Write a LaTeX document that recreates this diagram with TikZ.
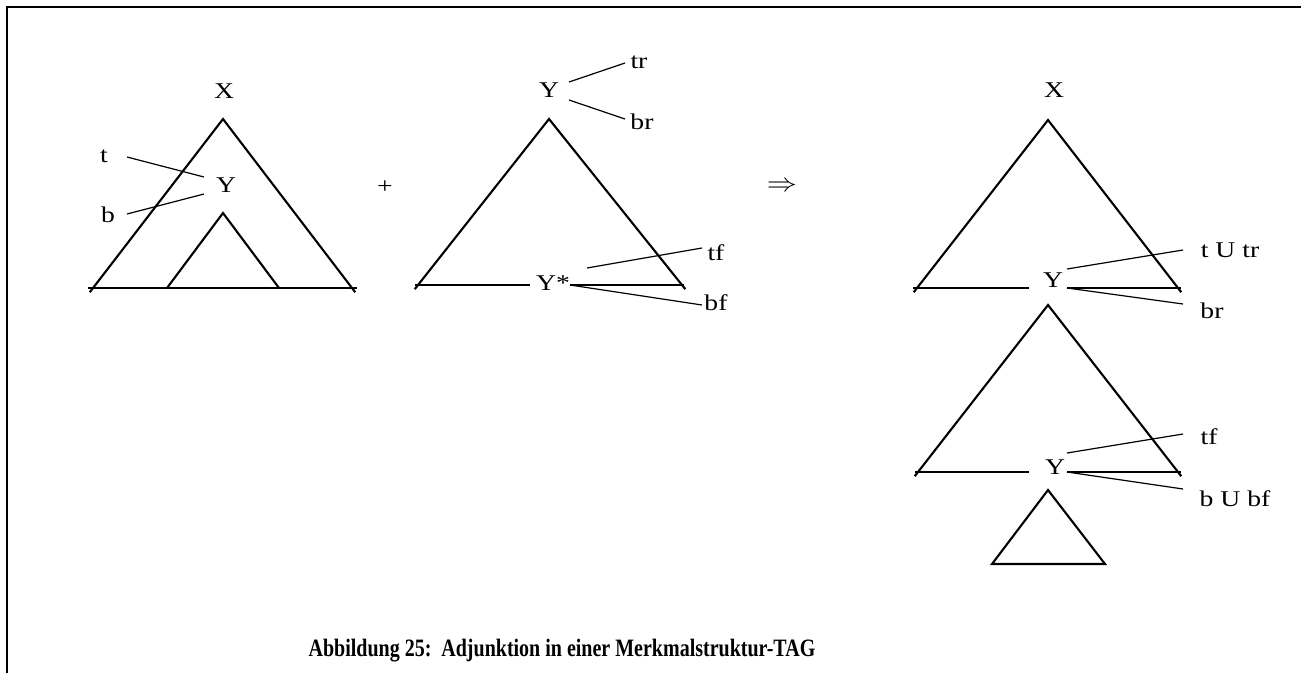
\documentclass[tikz,border=0pt]{standalone}
\usepackage{fontspec}
\setmainfont{Liberation Serif}[FakeStretch=1.23]
\newfontfamily\capfont{Liberation Serif}[FakeStretch=0.8]
\usetikzlibrary{calc}
\tikzset{
  lbl/.style={inner sep=0pt, font=\fontsize{22.5}{26}\selectfont},
  tri/.style={line width=2.1pt, line join=miter},
  lead/.style={line width=1.2pt},
  frame/.style={line width=2pt}
}
\newcommand{\sidetri}[3]{% apex, left, right
  \draw[tri] ($(#1)!1.025!(#2)$) -- (#1) -- ($(#1)!1.025!(#3)$);
}
\begin{document}
\begin{tikzpicture}[x=1pt,y=-1pt]
\useasboundingbox (0,0) rectangle (1301,673);
% frame
\coordinate (f1) at (7,673);
\coordinate (f2) at (7,7);
\coordinate (f3) at (1301,7);
\draw[frame] (f1) -- (f2) -- (f3);

% ---------- tree 1 ----------
\node[lbl] (x1) at (224,91) {X};
\coordinate (a1) at (223,119);
\coordinate (l1) at (93,288);
\coordinate (r1) at (352,288);
\coordinate (bl1) at (88,288);
\coordinate (br1) at (357,288);
\sidetri{a1}{l1}{r1}
\draw[tri] (bl1) -- (br1);
\node[lbl] (y1) at (226,185) {Y};
\node[lbl] (t1) at (104,156) {t};
\node[lbl] (b1) at (108,215) {b};
\coordinate (t1s) at (127,157); \coordinate (t1e) at (204,177);
\coordinate (b1s) at (127,214); \coordinate (b1e) at (204,194);
\draw[lead] (t1s) -- (t1e);
\draw[lead] (b1s) -- (b1e);
\coordinate (ia1) at (223,213);
\coordinate (il1) at (167,288);
\coordinate (ir1) at (279,288);
\draw[tri] (il1) -- (ia1) -- (ir1);

\node[lbl] (plus) at (385,187) {+};
\node[inner sep=0pt] (impl) at (782,187) {\scalebox{1.45}[1.25]{\fontsize{22}{26}\selectfont$\Rightarrow$}};

% ---------- tree 2 ----------
\node[lbl] (y2) at (549,90) {Y};
\node[lbl] (tr2) at (639,62) {tr};
\node[lbl] (br2) at (642,122) {br};
\coordinate (tr2s) at (569,82); \coordinate (tr2e) at (625,63);
\coordinate (br2s) at (569,100); \coordinate (br2e) at (625,119);
\draw[lead] (tr2s) -- (tr2e);
\draw[lead] (br2s) -- (br2e);
\coordinate (a2) at (549,119);
\coordinate (l2) at (418,285);
\coordinate (r2) at (682,285);
\sidetri{a2}{l2}{r2}
\coordinate (bl2) at (415,285); \coordinate (bm2a) at (530,285);
\coordinate (bm2b) at (570,285); \coordinate (br2x) at (684,285);
\draw[tri] (bl2) -- (bm2a);
\draw[tri] (bm2b) -- (br2x);
\node[lbl] (ys2) at (553,283) {Y*};
\node[lbl] (tf2) at (716,253) {tf};
\node[lbl] (bf2) at (716,303) {bf};
\coordinate (tf2s) at (587,268); \coordinate (tf2e) at (702,248);
\coordinate (bf2s) at (570,285); \coordinate (bf2e) at (702,305);
\draw[lead] (tf2s) -- (tf2e);
\draw[lead] (bf2s) -- (bf2e);

% ---------- tree 3 (upper) ----------
\node[lbl] (x3) at (1054,90) {X};
\coordinate (a3) at (1048,120);
\coordinate (l3) at (917,288);
\coordinate (r3) at (1178,288);
\sidetri{a3}{l3}{r3}
\coordinate (bl3) at (913,288); \coordinate (bm3a) at (1029,288);
\coordinate (bm3b) at (1067,288); \coordinate (br3x) at (1181,288);
\draw[tri] (bl3) -- (bm3a);
\draw[tri] (bm3b) -- (br3x);
\node[lbl] (y3) at (1053,280) {Y};
\node[lbl] (tutr) at (1230,250) {t U tr};
\node[lbl] (br3) at (1212,311) {br};
\coordinate (tu3s) at (1067,269); \coordinate (tu3e) at (1183,250);
\coordinate (br3s) at (1067,288); \coordinate (br3e) at (1183,304);
\draw[lead] (tu3s) -- (tu3e);
\draw[lead] (br3s) -- (br3e);

% ---------- tree 3 (lower) ----------
\coordinate (a4) at (1048,305);
\coordinate (l4) at (918,472);
\coordinate (r4) at (1178,472);
\sidetri{a4}{l4}{r4}
\coordinate (bl4) at (915,472); \coordinate (bm4a) at (1029,472);
\coordinate (bm4b) at (1067,472); \coordinate (br4x) at (1181,472);
\draw[tri] (bl4) -- (bm4a);
\draw[tri] (bm4b) -- (br4x);
\node[lbl] (y4) at (1055,467) {Y};
\node[lbl] (tf4) at (1209,437) {tf};
\node[lbl] (bubf) at (1235,499) {b U bf};
\coordinate (tf4s) at (1067,453); \coordinate (tf4e) at (1183,434);
\coordinate (bf4s) at (1067,472); \coordinate (bf4e) at (1183,489);
\draw[lead] (tf4s) -- (tf4e);
\draw[lead] (bf4s) -- (bf4e);
\coordinate (a5) at (1048,490);
\coordinate (l5) at (992,564);
\coordinate (r5) at (1105,564);
\draw[tri] (l5) -- (a5) -- (r5) -- cycle;

% ---------- caption ----------
\node[inner sep=0pt, font=\capfont\bfseries\fontsize{25}{29}\selectfont] (cap) at (562,651)
  {Abbildung 25:\ \ Adjunktion in einer Merkmalstruktur-TAG};
\end{tikzpicture}
\end{document}
